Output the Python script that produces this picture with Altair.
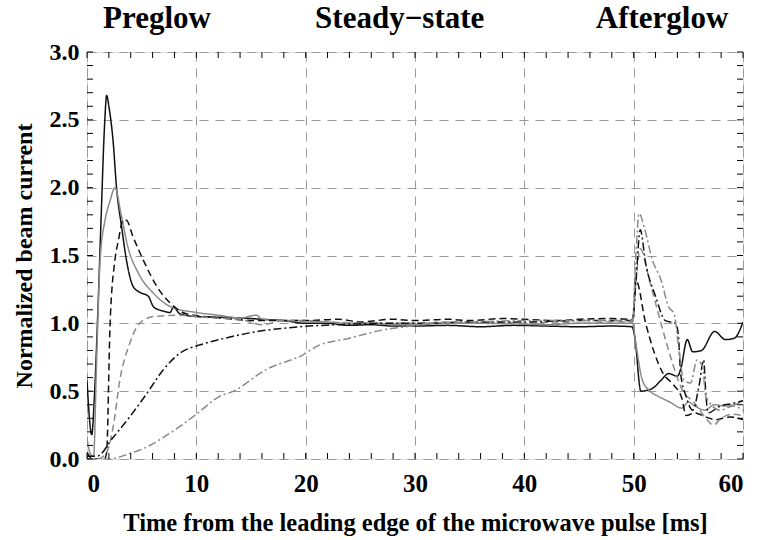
import altair as alt
import pandas as pd

# ---- data ----
tA = [0, 0.43, 0.7, 1.0, 1.3, 1.6, 1.8, 2.0, 2.4, 2.7, 3.17, 3.6, 4.23, 4.8, 5.6, 6.1, 7.0, 7.6, 7.9, 8.5, 10, 12, 14, 16, 18, 20, 22, 24, 26, 28, 30, 33, 36, 39, 42, 45, 48, 49.85,
      50.1, 50.66, 51.7, 52.5, 53.2, 54.0, 54.3, 54.9, 55.4, 56.2, 57.4, 58.4, 59.2, 60]
yA = [0.58, 0.18, 0.5, 1.1, 1.8, 2.45, 2.68, 2.6, 2.33, 2.0, 1.71, 1.47, 1.27, 1.23, 1.20, 1.12, 1.09, 1.08, 1.12, 1.07, 1.05, 1.045, 1.04, 1.03, 1.02, 1.0, 1.0, 0.985, 0.99, 0.98, 0.98, 0.985, 0.975, 0.985, 0.98, 0.975, 0.98, 0.975,
      0.9, 0.5, 0.52, 0.58, 0.63, 0.61, 0.66, 0.88, 0.79, 0.80, 0.94, 0.88, 0.89, 1.01]

tB = [0, 0.3, 0.6, 0.88, 1.2, 1.65, 2.1, 2.56, 3.1, 3.75, 4.7, 6.1, 7.7, 10, 12, 14, 15.5, 16, 18, 20, 22, 24, 26, 28, 30, 33, 36, 39, 42, 45, 48, 49.9,
      50.2, 50.8, 51.5, 52.3, 53.3, 54.4, 55.0, 55.6, 56.5, 57.4, 58.4, 59.2, 60]
yB = [0.15, 0.04, 0.02, 0.73, 1.47, 1.76, 1.9, 2.0, 1.81, 1.56, 1.37, 1.22, 1.12, 1.08, 1.06, 1.04, 1.06, 1.03, 1.02, 1.02, 1.01, 1.0, 1.0, 0.99, 0.99, 1.0, 1.0, 0.995, 0.99, 1.0, 1.0, 1.0,
      0.85, 0.58, 0.5, 0.46, 0.42, 0.375, 0.42, 0.39, 0.36, 0.40, 0.39, 0.40, 0.43]

tC = [0, 0.5, 1.6, 1.8, 2.1, 2.56, 2.87, 3.3, 3.6, 4.2, 5.3, 6.4, 7.6, 9.1, 12.1, 16, 20, 23, 25, 28, 30, 33, 35, 38, 40, 43, 45, 48, 49.9,
      50.2, 51.1, 52.7, 53.6, 54.4, 54.8, 55.6, 56.6, 57.5, 58.8, 60]
yC = [0.05, 0.0, 0.0, 0.05, 0.97, 1.47, 1.61, 1.76, 1.76, 1.64, 1.44, 1.27, 1.15, 1.07, 1.04, 1.02, 1.02, 1.03, 1.01, 1.03, 1.02, 1.03, 1.02, 1.035, 1.03, 1.02, 1.03, 1.035, 1.03,
      1.32, 1.0, 0.63, 0.55, 0.45, 0.32, 0.34, 0.31, 0.29, 0.31, 0.29]

tD = [0, 1.0, 1.8, 2.4, 3.0, 3.9, 4.8, 6.1, 8.5, 11.6, 14, 16, 18, 22, 26, 30, 33, 35, 38, 40, 43, 45, 48, 49.9,
      50.2, 50.6, 51.5, 52.5, 53.5, 54.5, 55.5, 56.6, 57.3, 58.0, 59.0, 60]
yD = [0.0, 0.0, 0.05, 0.24, 0.58, 0.85, 1.0, 1.05, 1.06, 1.04, 1.03, 0.99, 1.02, 1.01, 1.0, 1.0, 1.01, 1.0, 1.01, 1.0, 1.01, 1.0, 1.01, 1.01,
      1.3, 1.55, 1.3, 1.0, 0.72, 0.5, 0.42, 0.3, 0.25, 0.3, 0.33, 0.32]

tE = [0, 0.9, 2.4, 3.9, 5.45, 7.0, 8.5, 10.3, 12.1, 14.9, 19.5, 23, 27, 31, 35, 40, 45, 49.9,
      50.2, 50.6, 51.1, 52.0, 52.9, 53.85, 54.1, 54.3, 54.8, 55.4, 56.0, 56.4, 56.6, 56.8, 57.9, 59.1, 60]
yE = [0.02, 0.02, 0.16, 0.31, 0.48, 0.66, 0.78, 0.84, 0.88, 0.93, 0.975, 0.99, 1.0, 1.0, 1.01, 1.01, 1.02, 1.02,
      1.3, 1.69, 1.44, 1.2, 1.02, 1.0, 0.9, 0.63, 0.46, 0.36, 0.55, 0.73, 0.48, 0.34, 0.39, 0.41, 0.43]

tF = [0, 2.0, 3.9, 5.5, 7.0, 8.5, 10.0, 12.1, 13.4, 16.4, 19.8, 21, 24, 27, 29.2, 31.3, 35, 40, 45, 49.9,
      50.2, 50.5, 50.96, 51.7, 52.5, 53.2, 53.7, 54.1, 54.6, 55.2, 55.8, 56.3, 56.6, 57.9, 59.1, 60]
yF = [0.0, 0.0, 0.04, 0.09, 0.16, 0.24, 0.33, 0.46, 0.50, 0.66, 0.77, 0.83, 0.89, 0.95, 0.975, 1.0, 1.01, 1.02, 1.02, 1.02,
      1.5, 1.81, 1.71, 1.47, 1.32, 1.12, 1.07, 0.83, 0.58, 0.56, 0.73, 0.68, 0.46, 0.36, 0.39, 0.36]

series_names = ["A", "B", "C", "D", "E", "F"]
series_colors = ["#111111", "#8a8a8a", "#111111", "#8a8a8a", "#111111", "#8a8a8a"]
series_dashes = [[1, 0], [1, 0], [7, 4], [7, 4], [8, 3, 2, 3], [8, 3, 2, 3]]

x_major = [0, 10, 20, 30, 40, 50, 60]
y_major = [0.0, 0.5, 1.0, 1.5, 2.0, 2.5, 3.0]
x_minor = list(range(0, 61, 2))
y_minor = [round(i * 0.1, 1) for i in range(31)]

phase_labels = ["Preglow", "Steady\u2212state", "Afterglow"]
phase_x = [6.4, 28.6, 52.6]

# ---- build tables ----
rows = []
for name, ts, ys in zip(series_names, [tA, tB, tC, tD, tE, tF], [yA, yB, yC, yD, yE, yF]):
    for i, (t, y) in enumerate(zip(ts, ys)):
        rows.append({"t": t, "y": y, "s": name, "o": i})
df = pd.DataFrame(rows)

W, H = 656, 407
FONT = "Liberation Serif"
xs = alt.Scale(domain=[0, 60], nice=False, zero=False)
ys_ = alt.Scale(domain=[0, 3], nice=False, zero=False)

xaxis = alt.Axis(
    values=x_major, title="Time from the leading edge of the microwave pulse [ms]",
    grid=True, gridDash=[9, 7], gridColor="#9a9a9a", gridWidth=1,
    ticks=False, tickSize=0, domain=False, labelPadding=12, labelFont=FONT, labelFontWeight="bold",
    labelFontSize=25, labelColor="black", titleFont=FONT, titleFontWeight="bold",
    titleFontSize=24.5, titleColor="black", titlePadding=15, format="d")
yaxis = alt.Axis(
    values=y_major, title="Normalized beam current", format=".1f",
    grid=True, gridDash=[9, 7], gridColor="#9a9a9a", gridWidth=1,
    ticks=False, tickSize=0, domain=False, labelPadding=8, labelFont=FONT, labelFontWeight="bold",
    labelFontSize=24, labelColor="black", titleFont=FONT, titleFontWeight="bold",
    titleFontSize=24, titleColor="black", titlePadding=13)

lines = alt.Chart(df).mark_line(strokeWidth=1.5, interpolate="monotone", clip=True).encode(
    x=alt.X("t:Q", scale=xs, axis=xaxis),
    y=alt.Y("y:Q", scale=ys_, axis=yaxis),
    color=alt.Color("s:N", scale=alt.Scale(domain=series_names, range=series_colors), legend=None),
    strokeDash=alt.StrokeDash("s:N", scale=alt.Scale(domain=series_names, range=series_dashes), legend=None),
    order="o:Q",
)

xt = pd.DataFrame({"t": x_minor})
yt = pd.DataFrame({"y": y_minor})
tick_bottom = alt.Chart(xt).mark_rule(color="black", strokeWidth=1).encode(
    x=alt.X("t:Q", scale=xs, axis=xaxis), y=alt.value(H), y2=alt.value(H - 6))
tick_top = alt.Chart(xt).mark_rule(color="black", strokeWidth=1).encode(
    x=alt.X("t:Q", scale=xs, axis=xaxis), y=alt.value(0), y2=alt.value(6))
tick_left = alt.Chart(yt).mark_rule(color="black", strokeWidth=1).encode(
    y=alt.Y("y:Q", scale=ys_, axis=yaxis), x=alt.value(0), x2=alt.value(6))
tick_right = alt.Chart(yt).mark_rule(color="black", strokeWidth=1).encode(
    y=alt.Y("y:Q", scale=ys_, axis=yaxis), x=alt.value(W), x2=alt.value(W - 6))

phases = alt.Chart(pd.DataFrame({"label": phase_labels, "t": phase_x})).mark_text(
    font=FONT, fontWeight="bold", fontSize=31, baseline="alphabetic", align="center", color="black"
).encode(x=alt.X("t:Q", scale=xs, axis=xaxis), y=alt.value(-24), text="label:N")

chart = alt.layer(lines, tick_bottom, tick_top, tick_left, tick_right, phases).properties(
    width=W, height=H,
    autosize=alt.AutoSizeParams(type="none"),
    padding={"left": 87, "top": 52, "right": 15, "bottom": 81},
).configure_view(stroke="black", strokeWidth=1.2).configure(background="white")

chart.save("out.html", embed_options={"renderer": "svg", "actions": False})
